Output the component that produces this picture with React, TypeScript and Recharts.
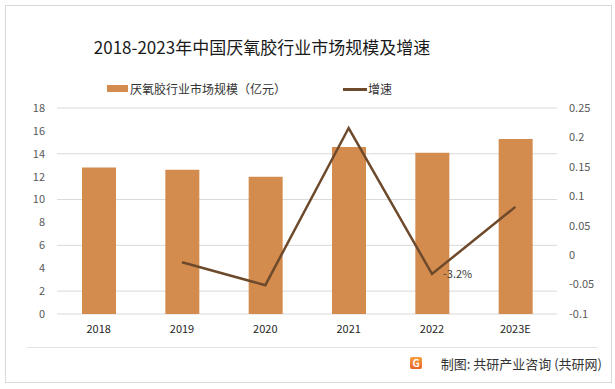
import {
  Bar,
  CartesianGrid,
  ComposedChart,
  LabelList,
  Line,
  XAxis,
  YAxis,
} from "recharts";

const years = ["2018", "2019", "2020", "2021", "2022", "2023E"];
const marketSize = [12.8, 12.6, 12.0, 14.6, 14.1, 15.3];
const growth = [null, -0.012, -0.051, 0.216, -0.032, 0.082];
const growthLabels = ["", "", "", "", "-3.2%", ""];
const leftTicks = [0, 2, 4, 6, 8, 10, 12, 14, 16, 18];
const rightTicks = [-0.1, -0.05, 0, 0.05, 0.1, 0.15, 0.2, 0.25];

const BAR = "#D48B4E";
const LINE = "#6E4A2C";
const FONT = "'Noto Sans CJK SC', 'Noto Sans', sans-serif";

const data = years.map((year, i) => ({
  year,
  size: marketSize[i],
  growth: growth[i],
  label: growthLabels[i],
}));

function LegendBox() {
  return (
    <div
      style={{
        position: "absolute",
        left: 0,
        top: 79,
        width: 615,
        height: 20,
        fontSize: 12,
        color: "#333",
      }}
    >
      <span
        style={{
          position: "absolute",
          left: 107,
          top: 6,
          width: 21,
          height: 7,
          background: BAR,
        }}
      />
      <span style={{ position: "absolute", left: 130, top: 0, lineHeight: "20px" }}>
        厌氧胶行业市场规模（亿元）
      </span>
      <span
        style={{
          position: "absolute",
          left: 343,
          top: 9,
          width: 24,
          height: 3,
          background: LINE,
        }}
      />
      <span style={{ position: "absolute", left: 368, top: 0, lineHeight: "20px" }}>
        增速
      </span>
    </div>
  );
}

function GrowthLabel(props: any) {
  const { x, y, value } = props;
  if (!value) return null;
  return (
    <text
      x={x + 11}
      y={y}
      dy="0.35em"
      fontSize={11}
      fill="#404040"
      fontFamily={FONT}
    >
      {value}
    </text>
  );
}

export default function App() {
  return (
    <div
      style={{
        position: "relative",
        width: 615,
        height: 389,
        background: "#fff",
        fontFamily: FONT,
      }}
    >
      <style>{`body{margin:0}`}</style>
      <div
        style={{
          position: "absolute",
          left: 5,
          top: 5,
          width: 605,
          height: 376,
          border: "1px solid #D9D9D9",
        }}
      />
      <div
        style={{
          position: "absolute",
          left: 0,
          width: 524,
          top: 35,
          textAlign: "center",
          fontSize: 17,
          color: "#1a1a1a",
          lineHeight: "24px",
        }}
      >
        2018-2023年中国厌氧胶行业市场规模及增速
      </div>
      <LegendBox />
      <div style={{ position: "absolute", left: 0, top: 0 }}>
        <ComposedChart
          width={615}
          height={389}
          data={data}
          margin={{ top: 108, right: 0, bottom: 45, left: 0 }}
        >
          <CartesianGrid
            yAxisId="left"
            vertical={false}
            stroke="#D9D9D9"
            strokeWidth={1}
          />
          <XAxis
            dataKey="year"
            axisLine={false}
            tickLine={false}
            height={30}
            tickMargin={5}
            tick={{ fontSize: 11, fill: "#262626", fontFamily: FONT }}
          />
          <YAxis
            yAxisId="left"
            width={57}
            domain={[0, 18]}
            ticks={leftTicks}
            axisLine={false}
            tickLine={false}
            tickMargin={6}
            tick={{ fontSize: 11, fill: "#595959", fontFamily: FONT }}
          />
          <YAxis
            yAxisId="right"
            orientation="right"
            width={58}
            domain={[-0.1, 0.25]}
            ticks={rightTicks}
            axisLine={false}
            tickLine={false}
            tickMargin={6}
            tickFormatter={(v: number) => String(Number(v.toFixed(2)))}
            tick={{ fontSize: 11, fill: "#595959", fontFamily: FONT, textAnchor: "start" }}
          />
          <Bar
            yAxisId="left"
            dataKey="size"
            fill={BAR}
            barSize={34}
            isAnimationActive={false}
          />
          <Line
            yAxisId="right"
            dataKey="growth"
            stroke={LINE}
            strokeWidth={2.5}
            dot={false}
            activeDot={false}
            connectNulls={false}
            isAnimationActive={false}
          >
            <LabelList dataKey="label" content={<GrowthLabel />} />
          </Line>
        </ComposedChart>
      </div>
      <div
        style={{
          position: "absolute",
          left: 27,
          top: 347,
          width: 571,
          height: 1,
          background: "#E3E3E3",
        }}
      />
      <div
        style={{
          position: "absolute",
          left: 410,
          top: 357,
          width: 12,
          height: 12,
          borderRadius: 2,
          background: "linear-gradient(180deg, #F6A03A, #E8632B)",
          color: "#fff",
          fontSize: 10,
          fontWeight: 700,
          lineHeight: "12px",
          textAlign: "center",
        }}
      >
        G
      </div>
      <div
        style={{
          position: "absolute",
          right: 13,
          top: 355,
          fontSize: 13,
          color: "#333",
          lineHeight: "18px",
        }}
      >
        制图: 共研产业咨询 (共研网)
      </div>
    </div>
  );
}
